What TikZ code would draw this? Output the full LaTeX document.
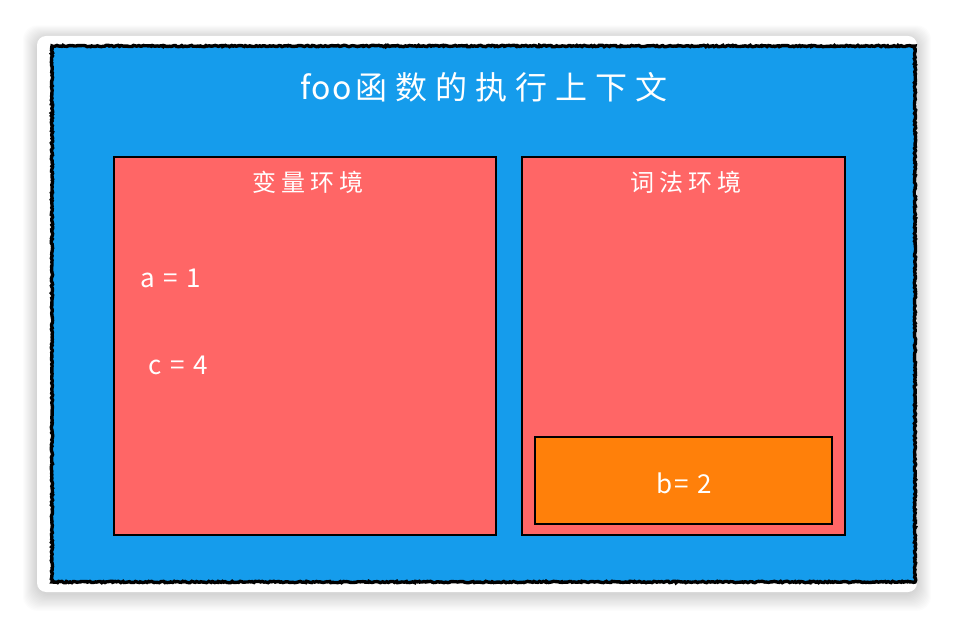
\documentclass[tikz,border=0pt]{standalone}
\usepackage{fontspec}
\setmainfont{Noto Sans CJK SC}
\usetikzlibrary{decorations.pathmorphing}
\definecolor{cardblue}{RGB}{21,156,236}
\definecolor{boxred}{RGB}{255,102,102}
\definecolor{boxorange}{RGB}{255,128,10}
\tikzset{
  redbox/.style={draw=black, line width=2pt, fill=boxred},
  orangebox/.style={draw=black, line width=2pt, fill=boxorange},
  lbl/.style={text=white, inner sep=0pt, anchor=center},
  rough/.style={draw=black, line width=3.4pt, decoration={random steps, segment length=1.6pt, amplitude=0.7pt}, decorate}
}
\begin{document}
\begin{tikzpicture}[x=1pt,y=-1pt]
\useasboundingbox (0,0) rectangle (954,628);
\fill[white] (0,0) rectangle (954,628);
% shadow
\foreach \i in {1,...,14}{
  \fill[black, opacity=0.011, rounded corners=14pt] ({37-\i},{38-\i*0.9}) rectangle ({917+\i},{594+\i*1.2});
}
\fill[white, rounded corners=9pt] (37,36) rectangle (917,592);
% blue frame
\fill[cardblue] (52,46) rectangle (915,582);
\draw[rough] (52,46) -- (915,46) -- (915,582) -- (52,582) -- cycle;
\node[lbl, font=\fontsize{32}{36}\selectfont] (title) at (484,87) {{\addfontfeatures{LetterSpace=4}foo}\hspace{4pt}{\addfontfeatures{LetterSpace=25}函数的执行上下文}};
% left box
\draw[redbox] (114,157) rectangle (496,535);
\node[lbl, font=\fontsize{24}{28}\selectfont\addfontfeatures{LetterSpace=22}] (venv) at (308,182) {变量环境};
\node[lbl, font=\fontsize{26}{30}\selectfont\addfontfeatures{LetterSpace=10}] (a) at (171,278) {a = 1};
\node[lbl, font=\fontsize{26}{30}\selectfont\addfontfeatures{LetterSpace=10}] (c) at (178,365) {c = 4};
% right box
\draw[redbox] (522,157) rectangle (845,535);
\node[lbl, font=\fontsize{24}{28}\selectfont\addfontfeatures{LetterSpace=22}] (lenv) at (686,182) {词法环境};
\draw[orangebox] (535,437) rectangle (832,524);
\node[lbl, font=\fontsize{26}{30}\selectfont\addfontfeatures{LetterSpace=10}] (b) at (684,483) {b= 2};
\end{tikzpicture}
\end{document}
